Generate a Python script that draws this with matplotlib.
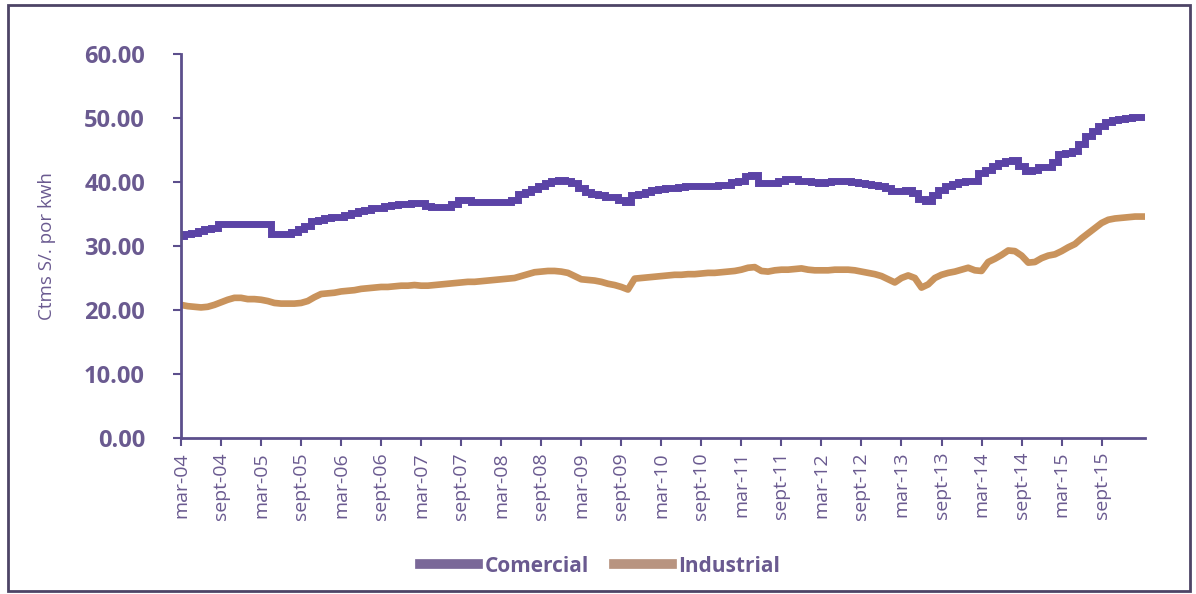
import matplotlib
matplotlib.use("Agg")
import matplotlib.pyplot as plt
from matplotlib.patches import Rectangle
import numpy as np

# tarifas mensuales (ctms S/. por kwh), mar-04 a mar-16
comercial = [
    31.6, 31.9, 32.1, 32.3, 32.6, 32.8, 33.4, 33.4, 33.4, 33.4, 33.4, 33.4, 33.4, 33.4,
    31.9, 31.9, 31.9, 32.2, 32.6, 33.2, 33.9, 34.0, 34.3, 34.6, 34.6, 34.9, 35.2, 35.4,
    35.6, 35.9, 36.0, 36.2, 36.4, 36.5, 36.6, 36.7, 36.7, 36.3, 36.1, 36.1, 36.1, 36.6,
    37.2, 37.2, 36.9, 36.9, 36.9, 36.9, 36.9, 36.9, 37.2, 38.1, 38.5, 38.9, 39.3, 39.8,
    40.2, 40.3, 40.2, 39.8, 39.0, 38.4, 38.2, 38.0, 37.7, 37.7, 37.2, 36.9, 38.0, 38.2,
    38.5, 38.7, 38.9, 39.0, 39.0, 39.2, 39.3, 39.3, 39.4, 39.4, 39.4, 39.5, 39.6, 40.0,
    40.2, 40.9, 41.1, 39.8, 39.8, 39.9, 40.1, 40.4, 40.5, 40.2, 40.1, 40.0, 39.9, 40.0,
    40.1, 40.1, 40.2, 40.0, 39.8, 39.7, 39.5, 39.3, 39.1, 38.6, 38.6, 38.7, 38.3, 37.4,
    37.0, 38.0, 38.8, 39.4, 39.7, 40.0, 40.1, 40.2, 41.4, 41.8, 42.5, 43.0, 43.3, 43.4,
    42.5, 41.7, 41.8, 42.3, 42.3, 43.2, 44.3, 44.5, 44.8, 46.0, 47.2, 48.0, 48.7, 49.3,
    49.7, 49.8, 50.0, 50.1, 50.2,
]
industrial = [
    20.8, 20.6, 20.5, 20.4, 20.5, 20.8, 21.2, 21.6, 21.9, 21.9, 21.7, 21.7, 21.6, 21.4,
    21.1, 21.0, 21.0, 21.0, 21.1, 21.4, 22.0, 22.5, 22.6, 22.7, 22.9, 23.0, 23.1, 23.3,
    23.4, 23.5, 23.6, 23.6, 23.7, 23.8, 23.8, 23.9, 23.8, 23.8, 23.9, 24.0, 24.1, 24.2,
    24.3, 24.4, 24.4, 24.5, 24.6, 24.7, 24.8, 24.9, 25.0, 25.3, 25.6, 25.9, 26.0, 26.1,
    26.1, 26.0, 25.8, 25.3, 24.8, 24.7, 24.6, 24.4, 24.1, 23.9, 23.6, 23.2, 24.9, 25.0,
    25.1, 25.2, 25.3, 25.4, 25.5, 25.5, 25.6, 25.6, 25.7, 25.8, 25.8, 25.9, 26.0, 26.1,
    26.3, 26.6, 26.7, 26.1, 26.0, 26.2, 26.3, 26.3, 26.4, 26.5, 26.3, 26.2, 26.2, 26.2,
    26.3, 26.3, 26.3, 26.2, 26.0, 25.8, 25.6, 25.3, 24.8, 24.3, 25.0, 25.4, 25.0, 23.5,
    24.0, 25.0, 25.5, 25.8, 26.0, 26.3, 26.6, 26.2, 26.1, 27.5, 28.0, 28.6, 29.3, 29.2,
    28.5, 27.4, 27.5, 28.1, 28.5, 28.7, 29.2, 29.8, 30.3, 31.2, 32.0, 32.8, 33.6, 34.1,
    34.3, 34.4, 34.5, 34.6, 34.6,
]
etiquetas = [
    "mar-04", "sept-04", "mar-05", "sept-05", "mar-06", "sept-06", "mar-07", "sept-07",
    "mar-08", "sept-08", "mar-09", "sept-09", "mar-10", "sept-10", "mar-11", "sept-11",
    "mar-12", "sept-12", "mar-13", "sept-13", "mar-14", "sept-14", "mar-15", "sept-15",
]
y_ticks = [0, 10, 20, 30, 40, 50, 60]

morado = "#6a5a90"
eje = "#5c4f8c"

fig = plt.figure(figsize=(11.96, 5.94), dpi=100)
ax = fig.add_axes([181 / 1196, 156 / 594, 964 / 1196, 384 / 594])

x = np.arange(len(comercial))
# la tarifa comercial cambia por escalones
ax.plot(x, comercial, color="#5b43a6", lw=5, drawstyle="steps-mid",
        solid_joinstyle="miter", label="Comercial")
ax.plot(x, industrial, color="#c9935c", lw=4.8, label="Industrial")

ax.set_xlim(0, len(comercial) - 0.5)
ax.set_ylim(0, 60)
ax.set_yticks(y_ticks)
ax.set_yticklabels([f"{v:.2f}" for v in y_ticks], fontsize=17, fontweight="bold",
                   color=morado, family="Open Sans")
ax.set_xticks(np.arange(len(etiquetas)) * 6)
ax.set_xticklabels(etiquetas, rotation=90, fontsize=14, color=morado, family="Open Sans")
ax.tick_params(axis="both", direction="out", length=6, width=1.5, color=eje)
ax.tick_params(axis="y", pad=20)
ax.tick_params(axis="x", pad=4)

for lado in ["top", "right"]:
    ax.spines[lado].set_visible(False)
for lado in ["left", "bottom"]:
    ax.spines[lado].set_color(eje)
    ax.spines[lado].set_linewidth(2)

ax.set_ylabel("Ctms S/. por kwh", fontsize=13.5, color=morado, family="Open Sans",
              labelpad=20)

leg = fig.legend(loc="center", bbox_to_anchor=(600 / 1196, 1 - 566 / 594), ncol=2,
                 frameon=False, handlelength=2.8, columnspacing=1.2, handletextpad=0.3,
                 prop={"family": "Open Sans", "weight": "bold", "size": 15})
for h, c in zip(leg.get_lines(), ["#7a6898", "#b89480"]):
    h.set_color(c)
    h.set_linewidth(7)
    h.set_drawstyle("default")
for t in leg.get_texts():
    t.set_color(morado)

# marco exterior del grafico
fig.patches.append(Rectangle((8 / 1196, 3 / 594), 1182 / 1196, 586 / 594,
                             transform=fig.transFigure, fill=False,
                             edgecolor="#4d4466", lw=2))

fig.savefig("out.png", dpi=100, facecolor="white")
